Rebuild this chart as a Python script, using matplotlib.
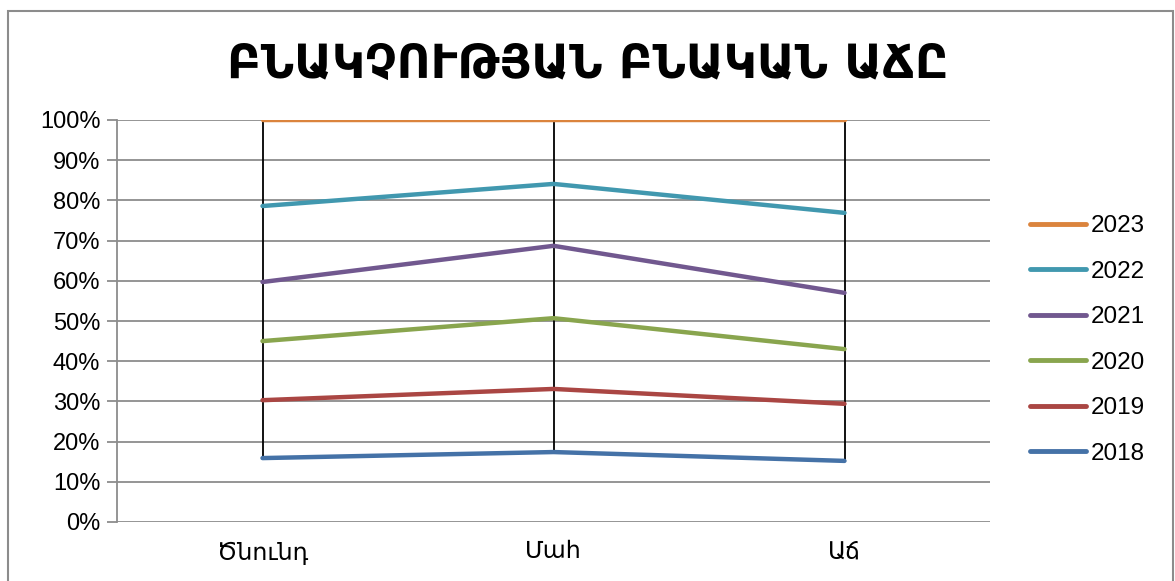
import numpy as np
import matplotlib
matplotlib.use("Agg")
import matplotlib.pyplot as plt
from matplotlib.patches import Rectangle
from matplotlib.ticker import PercentFormatter

plt.rcParams['font.family'] = ['Liberation Sans', 'DejaVu Sans']

# categories and cumulative (100% stacked) shares
categories = ["Ծնունդ", "Մահ", "Աճ"]
years = ["2018", "2019", "2020", "2021", "2022", "2023"]
y2018 = [15.9, 17.4, 15.2]
y2019 = [30.3, 33.1, 29.4]
y2020 = [45.0, 50.7, 43.0]
y2021 = [59.7, 68.7, 57.0]
y2022 = [78.6, 84.1, 76.9]
y2023 = [100.0, 100.0, 100.0]
series = [y2018, y2019, y2020, y2021, y2022, y2023]
colors = ["#4572A7", "#AA4643", "#89A54E", "#71588F", "#4198AF", "#DB843D"]

title = "ԲՆԱԿՉՈՒԹՅԱՆ ԲՆԱԿԱՆ ԱՃԸ"

fig = plt.figure(figsize=(11.75, 5.81), dpi=100)
ax = fig.add_axes([117 / 1175, 59 / 581, 873 / 1175, 402 / 581])

x = np.arange(len(categories))

# high-low lines
lows = np.min(series, axis=0)
highs = np.max(series, axis=0)
ax.vlines(x, lows, highs, color="black", linewidth=1.3, zorder=2)

lines = []
for name, vals, c in zip(years, series, colors):
    ln, = ax.plot(x, vals, color=c, linewidth=3.2, solid_capstyle="round", zorder=3, label=name)
    lines.append(ln)

ax.set_xlim(-0.5, len(categories) - 0.5)
ax.set_ylim(0, 100)
ax.set_yticks(np.arange(0, 101, 10))
ax.yaxis.set_major_formatter(PercentFormatter(decimals=0))
ax.set_xticks(x)
ax.set_xticklabels(categories)
ax.grid(axis="y", color="#8C8C8C", linewidth=1.3)
ax.set_axisbelow(True)
for s in ["top", "right"]:
    ax.spines[s].set_visible(False)
ax.spines["bottom"].set_visible(False)
ax.spines["left"].set_color("#8C8C8C")
ax.spines["left"].set_linewidth(1.3)
ax.tick_params(axis="y", length=7, width=1.3, color="#8C8C8C", labelsize=17, pad=5)
ax.tick_params(axis="x", length=0, labelsize=17, pad=14)

fig.text(588 / 1175, 1 - 65 / 581, title, ha="center", va="center",
         fontsize=33.5, fontweight="bold", family=["DejaVu Sans"])

leg = fig.legend(lines[::-1], years[::-1], loc="upper left",
                 bbox_to_anchor=(1030 / 1175, 1 - 215 / 581), frameon=False,
                 fontsize=17.5, handlelength=2.3, handletextpad=0.2,
                 labelspacing=0.97, borderaxespad=0, borderpad=0)
for h in leg.get_lines():
    h.set_linewidth(3.5)

fig.patches.append(Rectangle((8 / 1175, -0.1), (1173 - 8) / 1175, 1.1 - 11 / 581,
                             transform=fig.transFigure, fill=False,
                             edgecolor="#8C8C8C", linewidth=1.5))

fig.savefig("out.png", dpi=100)
